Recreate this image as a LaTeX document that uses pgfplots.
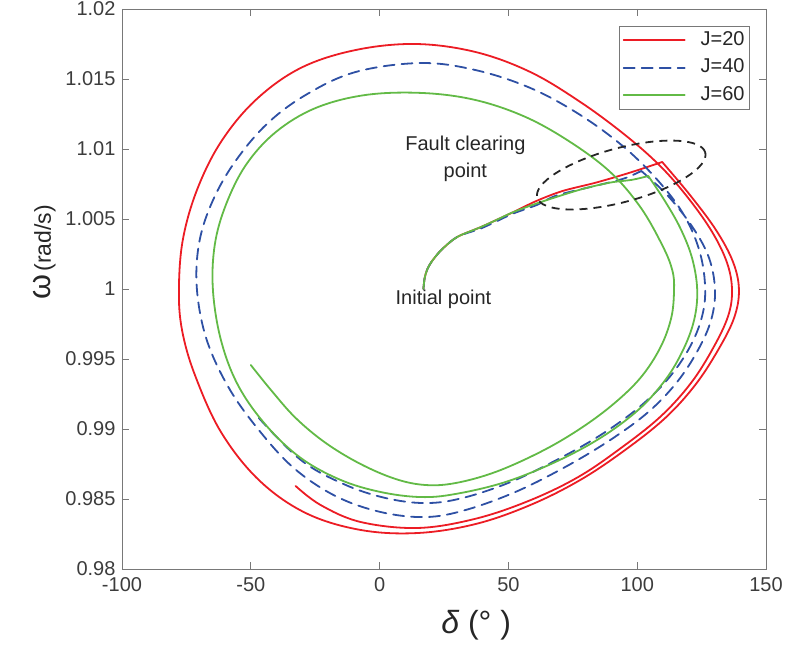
\documentclass[border=0pt]{standalone}
\usepackage{fontspec}
\setmainfont{Liberation Sans}
\usepackage{pgfplots}
\pgfplotsset{compat=1.18}
\definecolor{cred}{RGB}{236,28,36}
\definecolor{cblue}{RGB}{46,80,164}
\definecolor{cgreen}{RGB}{98,186,70}
\definecolor{axgray}{RGB}{120,120,120}
\definecolor{txtgray}{RGB}{60,60,60}
\begin{document}
\begin{tikzpicture}
\begin{axis}[
  scale only axis, width=644pt, height=560pt,
  xmin=-100, xmax=150, ymin=0.98, ymax=1.02,
  xtick={-100,-50,0,50,100,150},
  xticklabels={-100,-50,0,50,100,150},
  ytick={0.98,0.985,0.99,0.995,1,1.005,1.01,1.015,1.02},
  yticklabels={0.98,0.985,0.99,0.995,1,1.005,1.01,1.015,1.02},
  axis line style={axgray, line width=0.9pt},
  every tick/.style={axgray, line width=0.9pt},
  major tick length=7pt,
  tick label style={font=\fontsize{20}{24}\selectfont, text=txtgray},
  xticklabel style={yshift=-5pt},
  yticklabel style={xshift=-3pt},
  xlabel={\fontsize{32}{36}\selectfont\itshape δ \normalfont(° )},
  xlabel style={at={(axis description cs:0.55,-0.1)}, anchor=center, text=black!85},
  ylabel={{\fontsize{32}{36}\selectfont ω} {\fontsize{23}{28}\selectfont(rad/s)}},
  ylabel style={at={(axis description cs:-0.12,0.566)}, anchor=center, text=black!85},
  legend style={at={(axis description cs:0.975,0.970)}, anchor=north east,
    draw=axgray, line width=0.8pt, fill=white,
    font=\fontsize{20}{24}\selectfont, text=black!85,
    inner xsep=3pt, inner ysep=3pt, row sep=5.5pt,
    nodes={inner sep=2pt, text height=14pt, text depth=4pt},
    /tikz/every odd column/.append style={column sep=13pt}},
  legend cell align=left,
  legend image code/.code={\draw[#1] (0pt,0pt) -- (61pt,0pt);},
  every axis plot/.append style={line width=1.8pt, line cap=round, line join=round},
]
% ---------------- J=20 ----------------
\addplot[cred, smooth, tension=0.5] coordinates {
(17,1.0000) (17.5,1.0008) (18.5,1.0014) (20,1.0019) (23,1.0026) (27,1.0033) (31,1.0038) (39,1.0044) (45,1.0049) (52,1.0055) (61,1.0063) (71,1.0070) (84,1.0076) (97,1.0083) (109.7,1.00907)
};
\addlegendentry{J=20}
\addplot[cred, smooth, tension=0.6, forget plot] coordinates {
(109.7,1.00907) (120.5,1.00671) (130.6,1.00421) (137.2,1.00193) (139.5,0.99993) (137.6,0.99793) (131.4,0.99564) (122.5,0.99314) (110.9,0.99079) (95.3,0.98850) (77.9,0.98636) (58.5,0.98457) (37.2,0.98321) (14.7,0.98257) (-7.4,0.98279) (-28.7,0.98400) (-46.9,0.98636) (-61.6,0.98979) (-71.7,0.99386) (-76.7,0.99707) (-77.9,0.99993) (-76.4,1.00350) (-70.9,1.00707) (-61.6,1.01050) (-48.1,1.01350) (-30.6,1.01579) (-9.3,1.01707) (14.0,1.01750) (37.2,1.01693) (58.5,1.01550) (77.9,1.01336) (95.3,1.01100) (108.9,1.00879) (119.8,1.00650) (129.1,1.00407) (134.9,1.00186) (136.8,0.99993) (135.3,0.99807) (129.5,0.99579) (120.9,0.99329) (109.3,0.99093) (94.2,0.98871) (77.1,0.98657) (57.8,0.98486) (36.8,0.98357) (14.7,0.98293) (-7.4,0.98336) (-22.9,0.98457) (-32.6,0.98593)
};
% ---------------- J=40 ----------------
\addplot[cblue, dash pattern=on 11pt off 7pt, smooth, tension=0.5] coordinates {
(17,1.0000) (17.5,1.0008) (18.5,1.0014) (20,1.0019) (23,1.0026) (27,1.0033) (31,1.0038) (39,1.0043) (45,1.0048) (52,1.0054) (61,1.0060) (69,1.0067) (84.5,1.0074) (95,1.0079) (101.6,1.00843)
};
\addlegendentry{J=40}
\addplot[cblue, dash pattern=on 11pt off 7pt, smooth, tension=0.6, forget plot] coordinates {
(101.6,1.00843) (112.0,1.00664) (121.7,1.00436) (127.9,1.00221) (130.2,0.99993) (128.7,0.99779) (123.6,0.99564) (115.5,0.99336) (104.3,0.99121) (89.5,0.98921) (72.1,0.98729) (52.7,0.98550) (33.3,0.98421) (17.8,0.98371) (0.4,0.98407) (-17.1,0.98521) (-33.3,0.98721) (-46.9,0.98993) (-58.5,0.99293) (-67.1,0.99636) (-70.9,0.99993) (-70.2,1.00314) (-65.5,1.00600) (-57.0,1.00886) (-44.2,1.01171) (-28.7,1.01386) (-9.3,1.01550) (15.9,1.01614) (37.2,1.01564) (58.5,1.01436) (77.9,1.01243) (95.3,1.01007) (108.9,1.00757) (118.6,1.00514) (124.4,1.00257) (126.4,0.99993) (124.8,0.99779) (119.8,0.99564) (111.6,0.99350) (100.4,0.99150) (86.4,0.98964) (70.2,0.98793) (50.8,0.98621) (32.2,0.98507) (17.8,0.98471) (2.3,0.98507) (-14.0,0.98607) (-30.6,0.98779) (-46.9,0.99079)
};
% ---------------- J=60 ----------------
\addplot[cgreen, smooth, tension=0.5] coordinates {
(17,1.0000) (17.5,1.0008) (18.5,1.0014) (20,1.0019) (23,1.0026) (27,1.0033) (31,1.0038) (39,1.0044) (45,1.0049) (52,1.0055) (62.4,1.0062) (77.9,1.0071) (89.5,1.0076) (98,1.0078) (104.3,1.00807)
};
\addlegendentry{J=60}
\addplot[cgreen, smooth, tension=0.6, forget plot] coordinates {
(104.3,1.00807) (110.5,1.00636) (116.7,1.00436) (121.3,1.00221) (123.3,0.99993) (122.1,0.99779) (117.8,0.99564) (110.9,0.99350) (100.4,0.99136) (85.7,0.98936) (68.2,0.98764) (48.8,0.98621) (29.5,0.98536) (15.9,0.98514) (0.4,0.98550) (-15.1,0.98636) (-30.6,0.98793) (-44.2,0.99029) (-55.0,0.99314) (-61.6,0.99636) (-64.7,0.99993) (-64.0,1.00314) (-59.7,1.00600) (-51.9,1.00886) (-40.3,1.01121) (-24.8,1.01293) (-5.4,1.01386) (16.7,1.01400) (37.2,1.01350) (56.6,1.01229) (74.0,1.01050) (89.5,1.00836) (101.2,1.00586) (109.7,1.00314) (113.6,1.00136) (114.3,0.99993) (113.2,0.99793) (108.9,0.99579) (101.2,0.99364) (90.3,0.99171) (77.1,0.98993) (62.4,0.98836) (45.0,0.98693) (29.5,0.98614) (17.8,0.98600) (6.2,0.98643) (-7.4,0.98750) (-20.9,0.98900) (-32.6,0.99079) (-42.2,0.99279) (-50.0,0.99457)
};
\node[font=\fontsize{20}{27}\selectfont, align=center, text=black!85] at (axis cs:33.3,1.00932) {Fault clearing\\point};
\node[font=\fontsize{20}{24}\selectfont, text=black!85] at (axis cs:24.8,0.99929) {Initial point};
\coordinate (ec) at (axis cs:93.8,1.00814);
\coordinate (O) at (rel axis cs:0,0);
\end{axis}
\draw[black!85, line width=1.8pt, dash pattern=on 8pt off 6pt, rotate around={15:(ec)}] (ec) ellipse [x radius=87pt, y radius=27pt];
\pgfresetboundingbox
\path (O) ++(-122pt,-82pt) rectangle ++(802pt,651pt);
\end{tikzpicture}
\end{document}
